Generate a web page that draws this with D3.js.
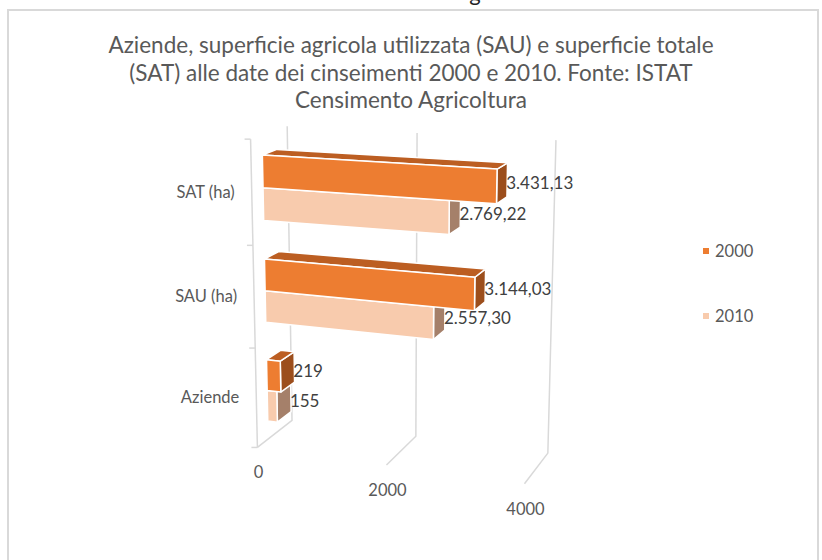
<!DOCTYPE html>
<html><head><meta charset="utf-8">
<script src="https://cdn.jsdelivr.net/npm/d3@7"></script>
<style>
html,body{margin:0;padding:0;background:#fff;}
svg{display:block;font-family:Lato,"Noto Sans",sans-serif;}
</style></head><body>
<svg id="chart" width="822" height="560"></svg>
<script>
const categories = ["Aziende", "SAU (ha)", "SAT (ha)"];
const seriesNames = ["2010", "2000"];
const values2000 = [219, 3144.03, 3431.13];
const values2010 = [155, 2557.30, 2769.22];
const labels2000 = ["219", "3.144,03", "3.431,13"];
const labels2010 = ["155", "2.557,30", "2.769,22"];
const valueTicks = [0, 2000, 4000];
const titleLines = [
  "Aziende, superficie agricola utilizzata (SAU) e superficie totale",
  "(SAT) alle date dei cinseimenti 2000 e 2010. Fonte: ISTAT",
  "Censimento Agricoltura"
];

// perspective camera for the unit plot box: u = value, v = category, w = depth (0 front, 1 back)
const camera = [
  233.06045, -19.01002, 49.13392, 257.41536,
  4.89724, -315.06801, -6.07031, 447.44975,
  -0.06482, -0.04855, 0.04977
];
function P(u, v, w) {
  const M = camera;
  const d = M[8] * u + M[9] * v + M[10] * w + 1;
  return [(M[0] * u + M[1] * v + M[2] * w + M[3]) / d,
          (M[4] * u + M[5] * v + M[6] * w + M[7]) / d];
}

const svg = d3.select("#chart");
const xs = d3.scaleLinear().domain([0, 4000]).range([0, 1]);
const ys = d3.scaleBand().domain(categories).range([0, 1]);
const ss = d3.scaleBand().domain(seriesNames).range([0, ys.bandwidth()]).paddingOuter(0.6);
const W0 = 0.3, W1 = 0.7; // bar depth (gap depth 150%)

// chart frame and the tail of the line of text above it
svg.append("rect").attr("x", 8).attr("y", 10).attr("width", 810).attr("height", 570)
  .attr("fill", "#fff").attr("stroke", "#d9d9d9").attr("stroke-width", 2);
svg.append("text").attr("x", 475).attr("y", 1).attr("text-anchor", "middle")
  .attr("font-size", 22).attr("fill", "#222").text("g");

// title
svg.append("g").selectAll("text").data(titleLines).join("text")
  .attr("x", 411).attr("y", (d, i) => 53 + i * 27.5).attr("text-anchor", "middle")
  .attr("font-size", 22.5).attr("fill", "#595959").text(d => d);

const line = d3.line();
// gridlines: up the back wall, then across the floor to the front
svg.append("g").selectAll("path").data(valueTicks).join("path")
  .attr("d", t => line([P(xs(t), 1, 1), P(xs(t), 0, 1), P(xs(t), 0, 0)]))
  .attr("fill", "none").attr("stroke", "#d9d9d9").attr("stroke-width", 1.5);
// value axis labels
svg.append("g").selectAll("text").data(valueTicks).join("text")
  .attr("x", t => P(xs(t), 0, 0)[0] + 1).attr("y", t => P(xs(t), 0, 0)[1] + 31)
  .attr("text-anchor", "middle").attr("font-size", 16.5).attr("fill", "#595959").text(t => t);

// category axis with tick marks
svg.append("path").attr("d", line([P(0, 0, 0), P(0, 1, 0)]))
  .attr("stroke", "#d9d9d9").attr("stroke-width", 1.5).attr("fill", "none");
svg.append("g").selectAll("path").data([0, 1 / 3, 2 / 3, 1]).join("path")
  .attr("d", v => { const p = P(0, v, 0); return line([[p[0] - 6, p[1]], p]); })
  .attr("stroke", "#d9d9d9").attr("stroke-width", 1.5);
svg.append("g").selectAll("text").data(categories).join("text")
  .attr("x", c => P(0, ys(c) + ys.bandwidth() / 2, 0)[0] - 17)
  .attr("y", c => P(0, ys(c) + ys.bandwidth() / 2, 0)[1] + 5)
  .attr("text-anchor", "end").attr("font-size", 16.5).attr("fill", "#595959").text(c => c);

// bars as boxes: side, top and front faces
const colors = {
  "2000": { front: "#ED7D31", top: "#BC5E22", side: "#9C4E1C" },
  "2010": { front: "#F8CBAD", top: "#C9A58E", side: "#A5806A" }
};
const bars = [];
categories.forEach((c, i) => {
  seriesNames.forEach(s => {
    const val = s === "2000" ? values2000[i] : values2010[i];
    const lab = s === "2000" ? labels2000[i] : labels2010[i];
    bars.push({ c, s, val, lab });
  });
});
const gb = svg.append("g");
bars.forEach(b => {
  const v0 = ys(b.c) + ss(b.s), v1 = v0 + ss.bandwidth(), u1 = xs(b.val), col = colors[b.s];
  const faces = [
    { pts: [P(u1, v0, W0), P(u1, v0, W1), P(u1, v1, W1), P(u1, v1, W0)], fill: col.side },
    { pts: [P(0, v1, W0), P(u1, v1, W0), P(u1, v1, W1), P(0, v1, W1)], fill: col.top },
    { pts: [P(0, v0, W0), P(u1, v0, W0), P(u1, v1, W0), P(0, v1, W0)], fill: col.front }
  ];
  faces.forEach(f => gb.append("path").attr("d", line(f.pts) + "Z").attr("fill", f.fill)
    .attr("stroke", "#fff").attr("stroke-width", 1.5).attr("stroke-linejoin", "round"));
});
// data labels just past the far end of each bar
const mid = b => ys(b.c) + ss(b.s) + ss.bandwidth() / 2;
svg.append("g").selectAll("text").data(bars).join("text")
  .attr("x", b => P(xs(b.val), mid(b), W1)[0] - 1)
  .attr("y", b => P(xs(b.val), mid(b), 0.5)[1] + 5.5)
  .attr("font-size", 17).attr("fill", "#404040").text(b => b.lab);

// legend
const lg = svg.append("g").selectAll("g").data(["2000", "2010"]).join("g")
  .attr("transform", (d, i) => `translate(703,${248 + i * 65})`);
lg.append("rect").attr("width", 6).attr("height", 6).attr("fill", d => colors[d].front);
lg.append("text").attr("x", 12).attr("y", 9).attr("font-size", 16.5).attr("fill", "#595959").text(d => d);
</script>
</body></html>
